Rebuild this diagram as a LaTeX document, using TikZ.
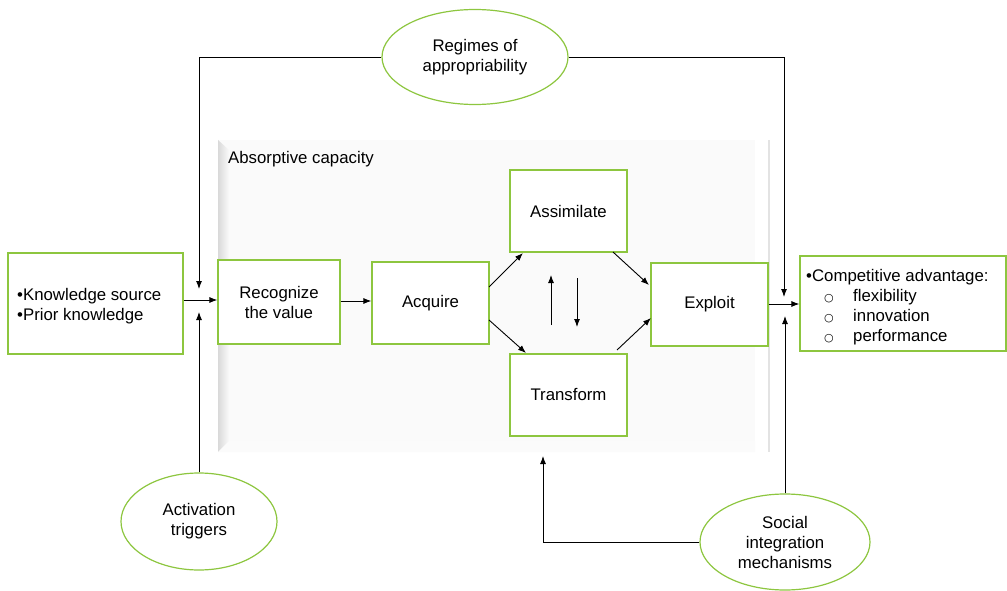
\documentclass[tikz,border=0pt]{standalone}
\usepackage{fontspec}
\setmainfont{Liberation Sans}
\newfontfamily\listmark{DejaVu Sans}
\usetikzlibrary{arrows.meta,shapes.geometric}
\definecolor{leaf}{RGB}{141,198,63}
\definecolor{panel}{RGB}{250,250,250}
\newcommand{\bodyfont}{\fontsize{16.8}{20}\selectfont}
\newcommand{\sublistitem}[1]{\hspace{18pt}\makebox[29pt][l]{\listmark\fontsize{11}{20}\selectfont ○}#1}
\tikzset{
  stagebox/.style={draw=leaf, line width=1.2pt, fill=white, align=center, inner sep=2pt, font=\bodyfont},
  factor/.style={ellipse, draw=leaf, line width=1.2pt, fill=white, align=center, inner sep=0pt, font=\bodyfont},
  link/.style={line width=0.9pt, -{Latex[length=8pt,width=6pt]}},
}
\begin{document}
\begin{tikzpicture}[x=1pt,y=-1pt]
\useasboundingbox (0,0) rectangle (1007,591);

% absorptive capacity panel with bevelled left edge
\fill[panel] (218,140) rectangle (755,452);
\shade[left color=gray!30, right color=panel] (218,140) -- (229,150) -- (229,441) -- (218,452) -- cycle;
\fill[white!97!gray] (229,441) -- (755,441) -- (755,452) -- (218,452) -- cycle;
\draw[gray!22, line width=1.2pt] (769,140) -- (769,452);
\node[anchor=base west, inner sep=0pt, font=\bodyfont] (panelname) at (228,164) {Absorptive capacity};

% stages
\node[stagebox, minimum width=175pt, minimum height=101pt] (know) at (95.5,303.5) {};
\node[anchor=west, align=left, inner sep=0pt, font=\bodyfont] (knowtext) at (17,306) {\textbullet Knowledge source\\\textbullet Prior knowledge};
\node[stagebox, minimum width=122pt, minimum height=84pt] (recog) at (279,302) {Recognize\\the value};
\node[stagebox, minimum width=117pt, minimum height=82pt] (acq) at (430.5,303) {Acquire};
\node[stagebox, minimum width=117pt, minimum height=82pt] (assim) at (568.5,211) {Assimilate};
\node[stagebox, minimum width=117pt, minimum height=82pt] (trans) at (568.5,395) {Transform};
\node[stagebox, minimum width=117pt, minimum height=83pt] (expl) at (709.5,304.5) {Exploit};
\node[stagebox, minimum width=206pt, minimum height=95pt] (comp) at (903,303.5) {};
\node[anchor=north west, inner sep=0pt, font=\bodyfont] (comptext) at (806,267) {%
  \begin{tabular}{@{}l@{}}
  \textbullet Competitive advantage:\\
  \sublistitem{flexibility}\\
  \sublistitem{innovation}\\
  \sublistitem{performance}
  \end{tabular}};

% contextual factors
\node[factor, minimum width=186pt, minimum height=95pt] (regimes) at (475,57) {Regimes of\\appropriability};
\node[factor, minimum width=156pt, minimum height=97pt] (trigger) at (199,521.5) {Activation\\triggers};
\node[factor, minimum width=170pt, minimum height=96pt] (social) at (785,542) {Social\\integration\\mechanisms};

% flow through the stages
\draw[link] (know.east |- 0,300) -- (recog.west |- 0,300);
\draw[link] (recog.east |- 0,301) -- (acq.west |- 0,301);
\draw[link] (489,287) -- (523,253);
\draw[link] (489,320) -- (526,353);
\draw[link] (613,252) -- (649,285);
\draw[link] (617,350) -- (651,318);
\draw[link] (expl.east |- 0,304) -- (comp.west |- 0,304);
\coordinate (upbot) at (551,325);
\coordinate (uptop) at (551,275);
\coordinate (dntop) at (577,278);
\coordinate (dnbot) at (577,327);
\draw[link] (upbot) -- (uptop);
\draw[link] (dntop) -- (dnbot);

% moderating links
\coordinate (regL) at (199,289);
\coordinate (regR) at (784,297);
\coordinate (trigT) at (199,312);
\coordinate (socT) at (785,316);
\coordinate (socL) at (543,456);
\draw[link] (regimes.west) -| (regL);
\draw[link] (regimes.east) -| (regR);
\draw[link] (trigger.north) -- (trigT);
\draw[link] (social.north) -- (socT);
\draw[link] (social.west) -| (socL);
\end{tikzpicture}
\end{document}
